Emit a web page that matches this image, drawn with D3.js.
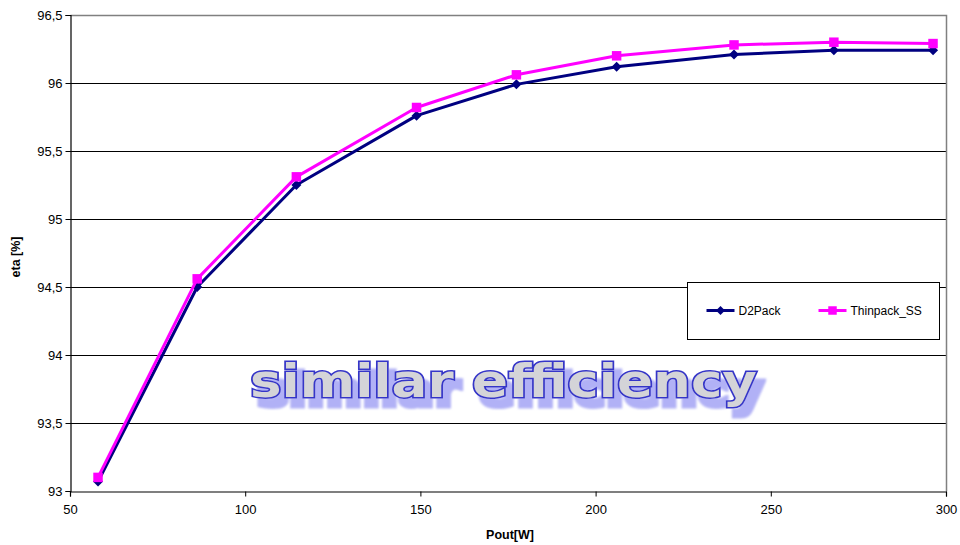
<!DOCTYPE html>
<html>
<head>
<meta charset="utf-8">
<script src="https://cdn.jsdelivr.net/npm/d3@7"></script>
<style>
  body { margin: 0; background: #fff; }
  svg { display: block; font-family: "Liberation Sans", Arial, sans-serif; }
</style>
</head>
<body>
<div id="graph"></div>
<script>
//Data
const pout = [58, 86.3, 114.6, 148.9, 177.4, 206, 239.5, 268, 296.3];
const d2pack = [93.07, 94.50, 95.25, 95.76, 95.99, 96.12, 96.21, 96.24, 96.24];
const thinpack = [93.10, 94.56, 95.31, 95.82, 96.06, 96.20, 96.28, 96.30, 96.29];
const xTickValues = [50, 100, 150, 200, 250, 300];
const yTickValues = [93, 93.5, 94, 94.5, 95, 95.5, 96, 96.5];

const seriesConfig = [
  {name: 'D2Pack', values: d2pack, color: '#000080', symbol: d3.symbolSquare, size: 50, rotate: 45},
  {name: 'Thinpack_SS', values: thinpack, color: '#ff00ff', symbol: d3.symbolSquare, size: 90, rotate: 0}
];

//General config
const width = 960, height = 545;
const margin = {top: 15, right: 14, bottom: 54, left: 70};
const plotW = width - margin.left - margin.right;
const plotH = height - margin.top - margin.bottom;

const svg = d3.select('#graph').append('svg')
  .attr('width', width)
  .attr('height', height);

//Shadow filter for the annotation
const filter = svg.append('defs').append('filter')
  .attr('id', 'shadow')
  .attr('x', '-5%').attr('y', '-20%').attr('width', '115%').attr('height', '160%');
filter.append('feMorphology').attr('in', 'SourceAlpha').attr('operator', 'dilate').attr('radius', 1).attr('result', 'fat');
filter.append('feOffset').attr('in', 'fat').attr('dx', 7).attr('dy', 9).attr('result', 'off');
filter.append('feGaussianBlur').attr('in', 'off').attr('stdDeviation', 0.8).attr('result', 'blur');
filter.append('feFlood').attr('flood-color', '#a4a4f4').attr('flood-opacity', 0.85);
filter.append('feComposite').attr('in2', 'blur').attr('operator', 'in').attr('result', 'sh');
const merge = filter.append('feMerge');
merge.append('feMergeNode').attr('in', 'sh');
merge.append('feMergeNode').attr('in', 'SourceGraphic');

const x = d3.scaleLinear().domain([50, 300]).range([0, plotW]);
const y = d3.scaleLinear().domain([93, 96.5]).range([plotH, 0]);
const fmt = d => String(d).replace('.', ',');

const g = svg.append('g').attr('transform', `translate(${margin.left},${margin.top})`);

//Grid lines
g.append('g')
  .selectAll('line')
  .data(yTickValues.filter(d => d > 93 && d < 96.5))
  .enter().append('line')
  .attr('x1', 0).attr('x2', plotW)
  .attr('y1', d => Math.round(y(d)) + 0.5).attr('y2', d => Math.round(y(d)) + 0.5)
  .attr('stroke', '#000').attr('stroke-width', 1);

//Plot border (top/right)
g.append('path')
  .attr('d', `M0.5,0.5H${plotW + 0.5}V${plotH}`)
  .attr('fill', 'none').attr('stroke', '#808080').attr('stroke-width', 1.5);

//Axes
const yAxis = g.append('g')
  .attr('transform', 'translate(0.5,0)')
  .call(d3.axisLeft(y).tickValues(yTickValues).tickSize(5).tickPadding(3).tickFormat(fmt));
const xAxis = g.append('g')
  .attr('transform', `translate(0,${plotH + 0.5})`)
  .call(d3.axisBottom(x).tickValues(xTickValues).tickSize(5).tickPadding(8).tickFormat(fmt));
[yAxis, xAxis].forEach(a => {
  a.select('.domain').attr('stroke', '#000').attr('stroke-width', 1.2);
  a.selectAll('.tick line').attr('stroke', '#000');
  a.selectAll('text').attr('font-family', '"Liberation Sans", Arial, sans-serif')
    .attr('font-size', 13).attr('fill', '#000');
});

//Axis titles
svg.append('text')
  .attr('transform', `translate(20,${margin.top + plotH / 2 + 4}) rotate(-90)`)
  .attr('text-anchor', 'middle')
  .attr('font-size', 12.5).attr('font-weight', 'bold')
  .text('eta [%]');
svg.append('text')
  .attr('x', 510).attr('y', 539)
  .attr('text-anchor', 'middle')
  .attr('font-size', 12.5).attr('font-weight', 'bold')
  .text('Pout[W]');

//Annotation
g.append('text')
  .attr('x', x(50) + 180).attr('y', y(93.69))
  .attr('textLength', 507).attr('lengthAdjust', 'spacingAndGlyphs')
  .attr('font-family', '"DejaVu Sans", sans-serif')
  .attr('font-size', 46).attr('font-weight', 'bold')
  .attr('fill', '#d4d4d8').attr('stroke', '#3535c8').attr('stroke-width', 3)
  .attr('paint-order', 'stroke')
  .attr('filter', 'url(#shadow)')
  .text('similar efficiency');

//Lines
const line = d3.line()
  .x((d, i) => x(pout[i]))
  .y(d => y(d));

const series = g.selectAll('.series')
  .data(seriesConfig)
  .enter().append('g')
  .attr('class', 'series');

series.append('path')
  .attr('d', d => line(d.values))
  .attr('fill', 'none')
  .attr('stroke', d => d.color)
  .attr('stroke-width', 3)
  .attr('stroke-linejoin', 'round');

series.each(function (s) {
  d3.select(this).selectAll('path.marker')
    .data(s.values)
    .enter().append('path')
    .attr('class', 'marker')
    .attr('transform', (d, i) => `translate(${x(pout[i])},${y(d)}) rotate(${s.rotate})`)
    .attr('d', d3.symbol().type(s.symbol).size(s.size))
    .attr('fill', s.color);
});

//Legend
const legend = svg.append('g').attr('transform', 'translate(687.5,282.5)');
legend.append('rect')
  .attr('width', 252).attr('height', 57)
  .attr('fill', '#fff').attr('stroke', '#000').attr('stroke-width', 1);
const key = legend.selectAll('.key')
  .data(seriesConfig)
  .enter().append('g')
  .attr('transform', (d, i) => `translate(${19 + i * 112},28)`);
key.append('line')
  .attr('x1', 0).attr('x2', 28)
  .attr('stroke', d => d.color).attr('stroke-width', 3);
key.append('path')
  .attr('transform', d => `translate(14,0) rotate(${d.rotate})`)
  .attr('d', d => d3.symbol().type(d.symbol).size(d.size * 0.8)())
  .attr('fill', d => d.color);
key.append('text')
  .attr('x', 32).attr('y', 4.5)
  .attr('font-size', 12)
  .text(d => d.name);
</script>
</body>
</html>
